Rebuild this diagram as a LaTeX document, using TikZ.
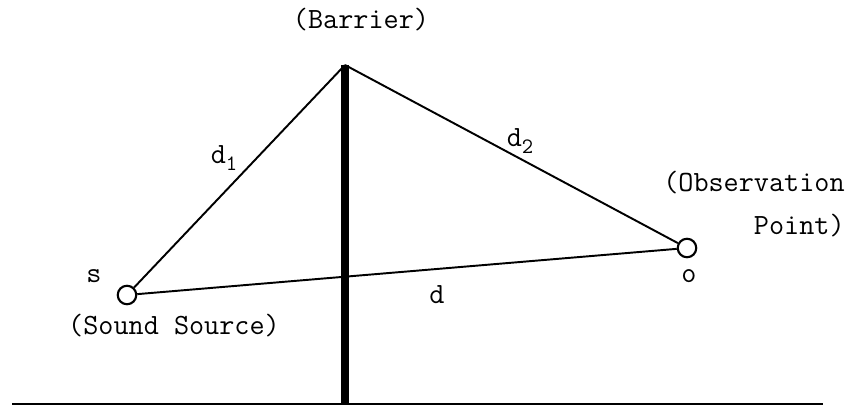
\documentclass[tikz,border=0pt]{standalone}
\usepackage{fontspec}
\usetikzlibrary{positioning}
\tikzset{pt/.style={circle, draw, line width=1.2pt, minimum size=0.37cm, inner sep=0pt, fill=white}}
\tikzset{ray/.style={line width=1.1pt}}
\tikzset{lbl/.style={font=\ttfamily\fontsize{16.7}{24}\selectfont, inner sep=0pt}}
\newcommand\lowidx[1]{\raisebox{-0.5ex}{\fontsize{12.5}{12.5}\selectfont#1}}

\begin{document}
\begin{tikzpicture}[x=0.2mm, y=-0.2mm]
\useasboundingbox (0,0) rectangle (861,408);
\coordinate (top) at (345,65);
\coordinate (base) at (345,404);
\coordinate (gl) at (12,404);
\coordinate (gr) at (823,404);
\node[pt] (src) at (127,295) {};
\node[pt] (obs) at (687,248) {};
% ground and barrier
\draw[line width=1.4pt] (gl) -- (gr);
\draw[line width=4.5pt] (top) -- (base);
% paths
\draw[ray] (src) -- (top);
\draw[ray] (top) -- (obs);
\draw[ray] (src) -- (obs);
% labels
\node[lbl] (barlbl) at (361,20) {(Barrier)};
\node[lbl] (d1lbl) at (224,158) {d\lowidx{1}};
\node[lbl] (d2lbl) at (520,141) {d\lowidx{2}};
\node[lbl] (dlbl) at (437,295) {d};
\node[lbl] (slbl) at (94,276) {s};
\node[lbl] (olbl) at (689,276) {o};
\node[lbl] (srclbl) at (174,326) {(Sound Source)};
\node[lbl, align=right, anchor=east] (obslbl) at (845,204) {(Observation\\Point)};
\end{tikzpicture}
\end{document}
